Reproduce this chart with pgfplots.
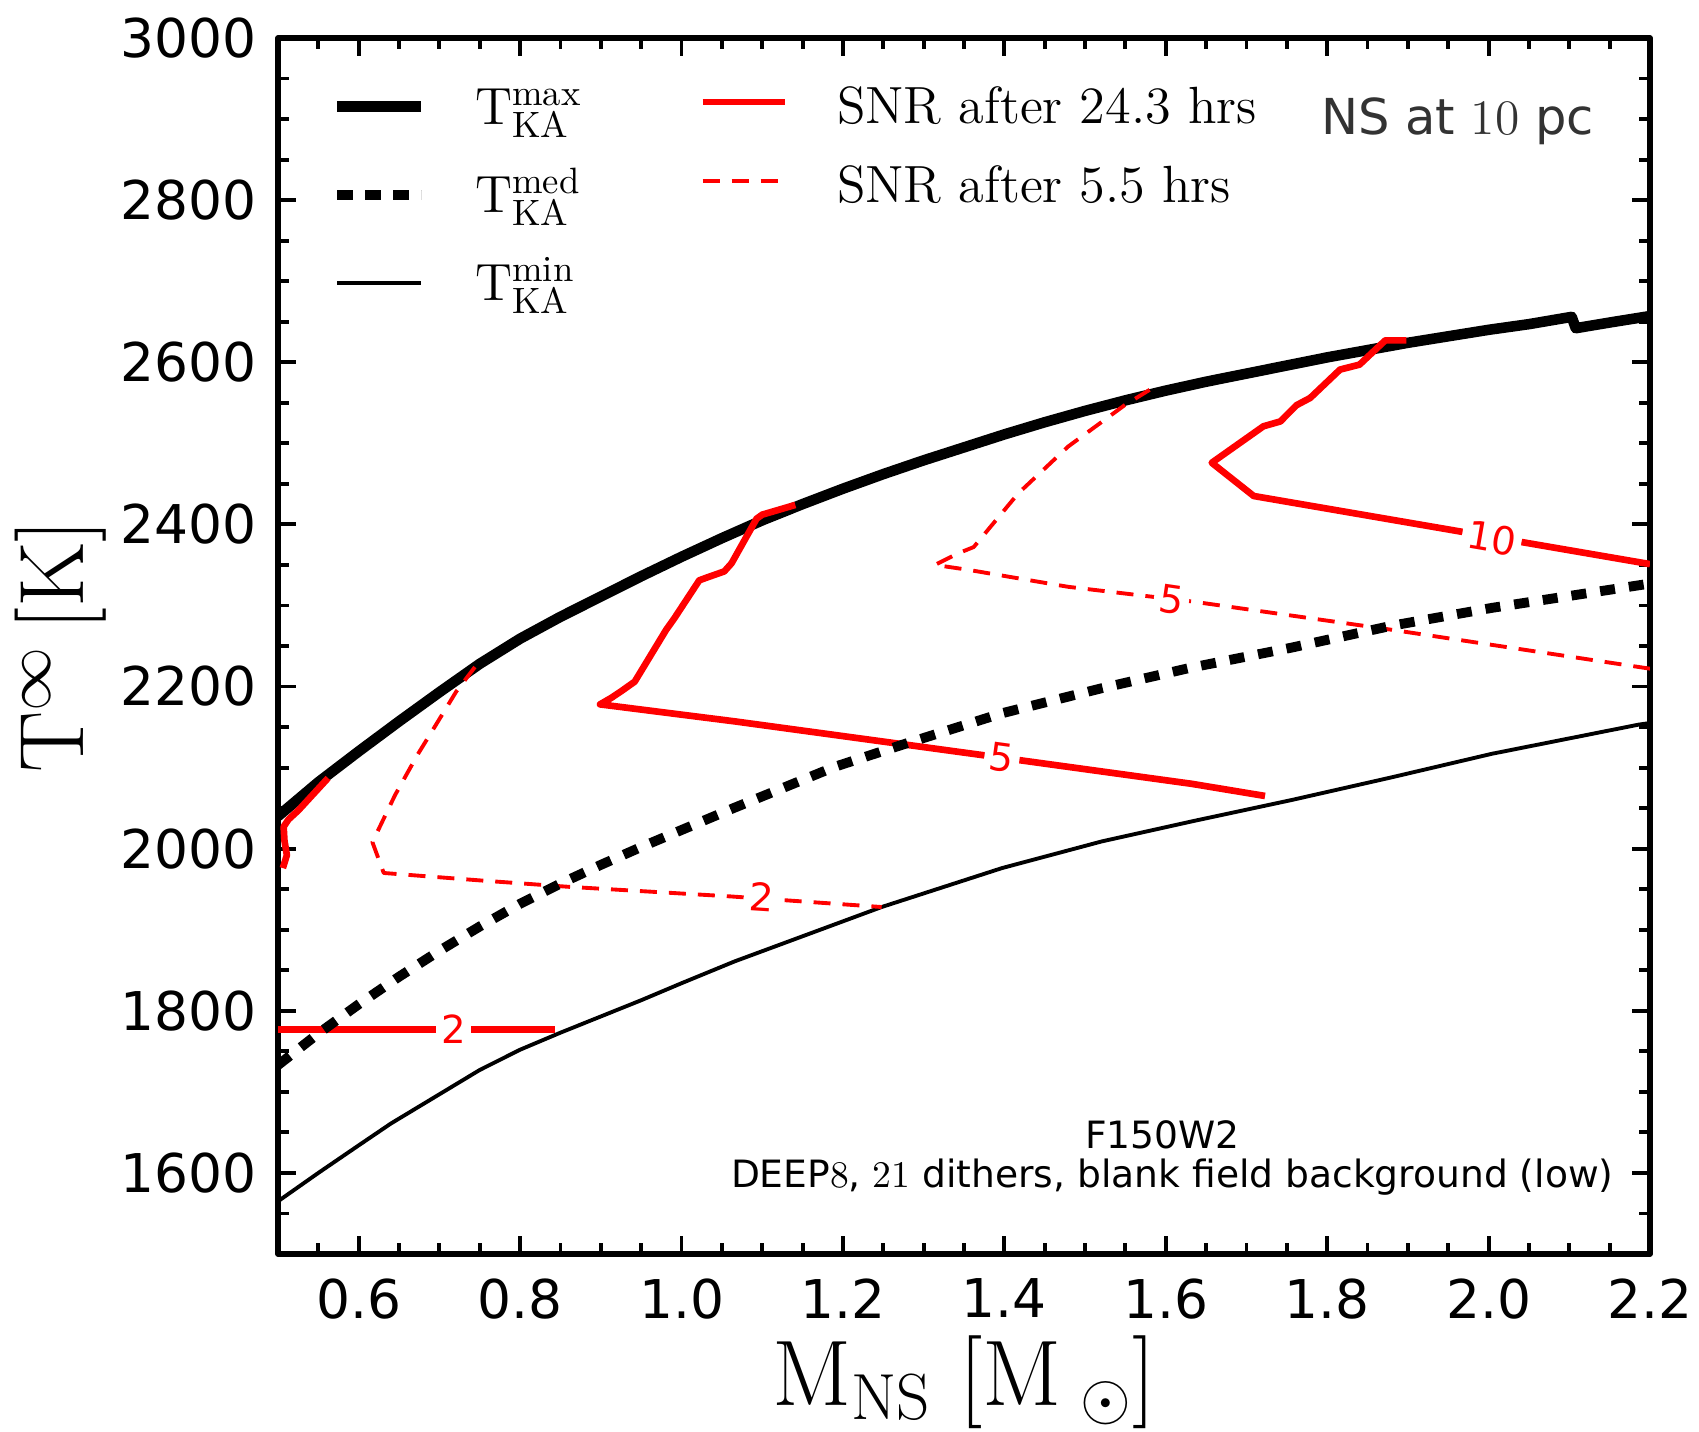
\documentclass[border=0pt]{standalone}
\usepackage{fix-cm}
\usepackage{fontspec}
\usepackage{pgfplots}
\pgfplotsset{compat=1.18}
\newfontfamily\dejavu{DejaVu Sans}

\begin{document}
\begin{tikzpicture}
\begin{axis}[
  at={(0,0)}, anchor=south west,
  scale only axis, width=13.72cm, height=12.16cm,
  xmin=0.5, xmax=2.2, ymin=1500, ymax=3000,
  xtick={0.6,0.8,1.0,1.2,1.4,1.6,1.8,2.0,2.2},
  ytick={1600,1800,2000,2200,2400,2600,2800,3000},
  minor xtick={0.55,0.65,0.7,0.75,0.85,0.9,0.95,1.05,1.1,1.15,1.25,1.3,1.35,1.45,1.5,1.55,1.65,1.7,1.75,1.85,1.9,1.95,2.05,2.1,2.15},
  minor ytick={1550,1650,1700,1750,1850,1900,1950,2050,2100,2150,2250,2300,2350,2450,2500,2550,2650,2700,2750,2850,2900,2950},
  tick align=inside,
  major tick length=0.18cm, minor tick length=0.11cm,
  tick style={black, line width=1.1pt},
  axis line style={line width=1.6pt},
  /pgf/number format/assume math mode=true,
  tick label style={font=\dejavu\fontsize{15.2}{18}\selectfont},
  x tick label style={/pgf/number format/.cd, fixed, fixed zerofill, precision=1, /tikz/.cd, yshift=-3.5pt},
  y tick label style={/pgf/number format/.cd, fixed, 1000 sep={}, /tikz/.cd, xshift=-2.6pt},
  xlabel={$\mathrm{M}_{\mathrm{NS}}\ [\mathrm{M}_{\;\odot}]$},
  ylabel={$\mathrm{T}^{\infty}\,[\mathrm{K}]$},
  xlabel style={at={(axis description cs:0.5,-0.125)}, anchor=base, font=\fontsize{26.5}{30}\selectfont},
  ylabel style={at={(axis description cs:-0.1415,0.5)}, anchor=base, font=\fontsize{26}{30}\selectfont},
  legend style={at={(axis description cs:0.039,0.9803)}, anchor=north west, draw=none, fill=none,
    inner sep=0pt, row sep=0pt, column sep=0.485cm, font=\fontsize{14.9}{17}\selectfont,
    nodes={inner sep=0pt, text height=0.62cm, text depth=0.26cm}},
  legend cell align=left,
  legend image code/.code={\draw[#1] (0cm,0cm) -- (0.84cm,0cm);},
  line join=round,
]
\addlegendimage{black, line width=3pt}
\addlegendentry{$\mathrm{T}^{\mathrm{max}}_{\mathrm{KA}}$}
\addlegendimage{black, line width=2.8pt, dash pattern=on 0.155cm off 0.125cm}
\addlegendentry{$\mathrm{T}^{\mathrm{med}}_{\mathrm{KA}}$}
\addlegendimage{black, line width=1.1pt}
\addlegendentry{$\mathrm{T}^{\mathrm{min}}_{\mathrm{KA}}$}

% T max
\addplot[forget plot, black, line width=3pt] coordinates {
(0.5,2040) (0.55,2082) (0.6,2120) (0.65,2157) (0.7,2193) (0.75,2228) (0.8,2259) (0.85,2286)
(0.9,2311) (0.95,2336) (1.0,2360) (1.05,2383) (1.1,2405) (1.15,2425) (1.2,2444) (1.25,2462)
(1.3,2479) (1.35,2495) (1.4,2511) (1.45,2526) (1.5,2540) (1.55,2553) (1.6,2565) (1.65,2576)
(1.7,2586) (1.75,2596) (1.8,2606) (1.85,2615) (1.9,2624) (1.95,2632) (2.0,2640) (2.05,2647)
(2.103,2656) (2.108,2642) (2.15,2649) (2.2,2657)};

% T min
\addplot[forget plot, black, line width=1.1pt] coordinates {
(0.5,1565) (0.55,1600) (0.6,1634) (0.64,1661) (0.7,1697) (0.75,1727) (0.8,1752) (0.85,1773)
(0.9,1793) (0.95,1813) (1.0,1834) (1.066,1861) (1.248,1928) (1.397,1976) (1.521,2009)
(1.634,2034) (1.756,2060) (1.88,2088) (2.004,2117) (2.186,2153) (2.2,2155)};

% SNR 24.3 hrs (solid)
\addplot[forget plot, red, line width=1.9pt] coordinates {(0.5,1777) (0.843,1777)};
\addplot[forget plot, red, line width=1.9pt] coordinates {
(0.506,1976) (0.511,1992) (0.508,2010) (0.507,2027) (0.513,2036) (0.525,2047) (0.562,2087)};
\addplot[forget plot, red, line width=1.9pt] coordinates {
(1.141,2424) (1.100,2412) (1.093,2407) (1.062,2352) (1.053,2342) (1.033,2335) (1.022,2331)
(0.991,2284) (0.981,2270) (0.942,2206) (0.925,2194) (0.913,2186) (0.899,2178)
(1.066,2157) (1.398,2112) (1.632,2080) (1.723,2065)};
\addplot[forget plot, red, line width=1.9pt] coordinates {
(1.898,2627) (1.872,2627) (1.840,2597) (1.816,2591) (1.779,2556) (1.762,2547) (1.742,2527)
(1.721,2521) (1.657,2476) (1.709,2435) (2.2,2351)};

% SNR 5.5 hrs (dashed)
\addplot[forget plot, red, line width=1.1pt, dash pattern=on 0.17cm off 0.12cm] coordinates {
(0.744,2224) (0.721,2194) (0.694,2150) (0.673,2116) (0.645,2066) (0.617,2008) (0.631,1970)
(0.748,1961) (0.859,1953) (1.062,1941) (1.248,1928)};
\addplot[forget plot, red, line width=1.1pt, dash pattern=on 0.17cm off 0.12cm] coordinates {
(1.580,2566) (1.549,2547) (1.479,2496) (1.417,2438) (1.362,2372) (1.342,2364) (1.314,2350)
(1.355,2344) (1.479,2323) (1.632,2305) (1.880,2270) (2.2,2222)};

% contour labels
\tikzset{clab/.style={text=red, font=\dejavu\fontsize{11}{13}\selectfont, fill=white, inner xsep=1.5pt, inner ysep=0.5pt}}
\node[clab] at (axis cs:0.7175,1777) {2};
\node[clab, rotate=-7.8] at (axis cs:1.397,2112) {5};
\node[clab, rotate=-9.8] at (axis cs:2.004,2383) {10};
\node[clab, rotate=-3.7] at (axis cs:1.099,1941) {2};
\node[clab, rotate=-8.3] at (axis cs:1.607,2307) {5};

% T med
\addplot[forget plot, black, line width=2.8pt, dash pattern=on 0.15cm off 0.14cm] coordinates {
(0.5,1733) (0.55,1772) (0.6,1808) (0.65,1842) (0.7,1874) (0.75,1904) (0.8,1932) (0.85,1957)
(0.9,1980) (0.95,2002) (1.0,2023) (1.062,2049) (1.19,2101) (1.273,2128) (1.397,2167)
(1.521,2198) (1.63,2223) (1.756,2248) (1.88,2275) (2.004,2297) (2.2,2327)};

% annotations
\node[anchor=base west, text=black!80, font=\fontsize{14.1}{17}\selectfont] at (axis cs:1.777,2881)
  {{\dejavu NS at\ }{\rmfamily 10}{\dejavu\ pc}};
\node[anchor=base, font=\fontsize{10.7}{12}\selectfont] at (axis cs:1.596,1630) {\dejavu F150W2};
\node[anchor=base, font=\fontsize{10.7}{12}\selectfont] at (axis cs:1.608,1582)
  {{\dejavu DEEP}{\rmfamily 8}{\dejavu,\ }{\rmfamily 21}{\dejavu\ dithers, blank field background (low)}};
\end{axis}

\begin{axis}[
  at={(0,0)}, anchor=south west,
  scale only axis, width=13.72cm, height=12.16cm,
  xmin=0.5, xmax=2.2, ymin=1500, ymax=3000, hide axis,
  legend style={at={(axis description cs:0.3066,0.9803)}, anchor=north west, draw=none, fill=none,
    inner sep=0pt, row sep=0pt, column sep=0.49cm, font=\fontsize{14.9}{17}\selectfont,
    nodes={inner sep=0pt, text height=0.605cm, text depth=0.185cm}},
  legend cell align=left,
  legend image code/.code={\draw[#1] (0cm,0cm) -- (0.82cm,0cm);},
]
\addplot[draw=none, forget plot] coordinates {(1,2000)};
\addlegendimage{red, line width=1.9pt}
\addlegendentry{SNR after 24.3 hrs}
\addlegendimage{red, line width=1.1pt, dash pattern=on 0.17cm off 0.12cm}
\addlegendentry{SNR after 5.5 hrs}
\end{axis}

\pgfresetboundingbox
\path[use as bounding box] (-2.78cm,-1.78cm) rectangle (14.21cm,12.54cm);
\end{tikzpicture}
\end{document}
